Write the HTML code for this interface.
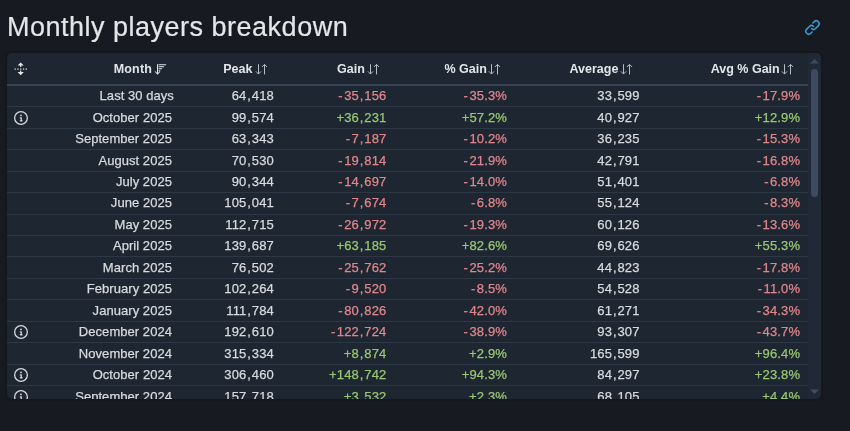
<!DOCTYPE html>
<html><head><meta charset="utf-8"><style>
html,body{margin:0;padding:0}
body{width:850px;height:431px;overflow:hidden;background:#171a21;position:relative;font-family:"Liberation Sans",Arial,sans-serif;}
h2{position:absolute;left:7.0px;top:12.0px;margin:0;font-weight:normal;font-size:27px;letter-spacing:0.5px;line-height:30px;-webkit-text-stroke:0.2px currentColor;color:#e4e6e8;white-space:nowrap}
.link{position:absolute;left:803.7px;top:18.8px;width:17px;height:17px}
.tbl{position:absolute;left:7px;top:53px;width:813.5px;height:346px;background:#1e2731;border-radius:5px;overflow:hidden;box-shadow:0 0 0 2px #14171c}
.hdr{position:absolute;left:0;top:0;width:801px;height:31px;border-bottom:2px solid #364456}
.sep{position:absolute;left:0;width:801px;height:1px;background:#2c3846}
.t{position:absolute;white-space:nowrap;line-height:15px;-webkit-text-stroke:0.25px currentColor;font-size:13px;color:#d6dade;text-align:right}
.h{position:absolute;white-space:nowrap;line-height:15px;font-size:12.5px;font-weight:bold;color:#e2e6ea;text-align:right}
.n{letter-spacing:0.15px}
.m{letter-spacing:0.05px}
.cm{margin:0 0.8px}
.mi{margin-right:1.3px}
.r{color:#e0868b}
.g{color:#98c672}
.ic{position:absolute;color:#d5d9de}
.sb{position:absolute;left:801px;top:0;width:12.5px;height:346px;background:#212836}
</style></head><body>
<h2>Monthly players breakdown</h2>

<svg class="link" viewBox="0 0 16 16"><path fill="#3799cf" d="m7.775 3.275 1.25-1.25a3.5 3.5 0 1 1 4.95 4.95l-2.5 2.5a3.5 3.5 0 0 1-4.95 0 .751.751 0 0 1 .018-1.042.751.751 0 0 1 1.042-.018 1.998 1.998 0 0 0 2.83 0l2.5-2.5a2.002 2.002 0 0 0-2.83-2.83l-1.25 1.25a.751.751 0 0 1-1.042-.018.751.751 0 0 1-.018-1.042Zm-4.69 9.64a1.998 1.998 0 0 0 2.83 0l1.25-1.25a.751.751 0 0 1 1.042.018.751.751 0 0 1 .018 1.042l-1.25 1.25a3.5 3.5 0 1 1-4.95-4.95l2.5-2.5a3.5 3.5 0 0 1 4.95 0 .751.751 0 0 1-.018 1.042.751.751 0 0 1-1.042.018 1.998 1.998 0 0 0-2.83 0l-2.5 2.5a1.998 1.998 0 0 0 0 2.83Z"/></svg>
<div class="tbl">
<div class="hdr"></div>
<div class="h" style="right:668.50px;top:9.20px;letter-spacing:0.15px">Month</div>
<svg style="position:absolute;left:147.00px;top:10.80px" width="13" height="11" viewBox="0 0 13 11"><g fill="none" stroke="#e0e4e8" stroke-width="1.05"><path d="M3.5 0.3v9.6M1 7.5l2.5 2.5 2.5-2.5"/><path d="M4.5 0.7h7.6M4.5 2.7h5.6M4.5 4.7h3.6M4.5 6.7h1.7"/></g></svg>
<div class="h" style="right:568.10px;top:9.20px">Peak</div>
<svg style="position:absolute;left:248.00px;top:10.80px" width="13" height="11" viewBox="0 0 13 11"><g fill="none" stroke="#b4bcc6" stroke-width="1.0"><path d="M3.5 0.2V10.1M0.9 7.4L3.5 10.0L6.1 7.4"/><path d="M9.5 10.4V0.4M6.9 3.0L9.5 0.4L12.1 3.0"/></g></svg>
<div class="h" style="right:455.60px;top:9.20px">Gain</div>
<svg style="position:absolute;left:360.00px;top:10.80px" width="13" height="11" viewBox="0 0 13 11"><g fill="none" stroke="#b4bcc6" stroke-width="1.0"><path d="M3.5 0.2V10.1M0.9 7.4L3.5 10.0L6.1 7.4"/><path d="M9.5 10.4V0.4M6.9 3.0L9.5 0.4L12.1 3.0"/></g></svg>
<div class="h" style="right:333.70px;top:9.20px">% Gain</div>
<svg style="position:absolute;left:481.00px;top:10.80px" width="13" height="11" viewBox="0 0 13 11"><g fill="none" stroke="#b4bcc6" stroke-width="1.0"><path d="M3.5 0.2V10.1M0.9 7.4L3.5 10.0L6.1 7.4"/><path d="M9.5 10.4V0.4M6.9 3.0L9.5 0.4L12.1 3.0"/></g></svg>
<div class="h" style="right:202.10px;top:9.20px">Average</div>
<svg style="position:absolute;left:613.00px;top:10.80px" width="13" height="11" viewBox="0 0 13 11"><g fill="none" stroke="#b4bcc6" stroke-width="1.0"><path d="M3.5 0.2V10.1M0.9 7.4L3.5 10.0L6.1 7.4"/><path d="M9.5 10.4V0.4M6.9 3.0L9.5 0.4L12.1 3.0"/></g></svg>
<div class="h" style="right:40.80px;top:9.20px">Avg % Gain</div>
<svg style="position:absolute;left:774.00px;top:10.80px" width="13" height="11" viewBox="0 0 13 11"><g fill="none" stroke="#b4bcc6" stroke-width="1.0"><path d="M3.5 0.2V10.1M0.9 7.4L3.5 10.0L6.1 7.4"/><path d="M9.5 10.4V0.4M6.9 3.0L9.5 0.4L12.1 3.0"/></g></svg>
<svg style="position:absolute;left:7px;top:8.5px" width="15" height="14" viewBox="0 0 15 14"><g fill="#e6e9ec"><path d="M6.7 0.4L9.8 3.5H7.3V5.1H6.1V3.5H3.6Z"/><path d="M6.7 13.2L9.8 10.1H7.3V8.4H6.1V10.1H3.6Z"/><rect x="0.5" y="6.5" width="1.3" height="1.2"/><rect x="3.3" y="6.5" width="1.3" height="1.2"/><rect x="6.1" y="6.5" width="1.3" height="1.2"/><rect x="8.9" y="6.5" width="1.3" height="1.2"/><rect x="11.7" y="6.5" width="1.3" height="1.2"/></g></svg>
<div class="t m" style="right:646.60px;top:35.20px">Last 30 days</div>
<div class="t n" style="right:546.50px;top:35.20px">64<span class="cm">,</span>418</div>
<div class="t n r" style="right:434.10px;top:35.20px"><span class="mi">-</span>35<span class="cm">,</span>156</div>
<div class="t n r" style="right:313.50px;top:35.20px"><span class="mi">-</span>35.3%</div>
<div class="t n" style="right:180.90px;top:35.20px">33<span class="cm">,</span>599</div>
<div class="t n r" style="right:20.30px;top:35.20px"><span class="mi">-</span>17.9%</div>
<div class="sep" style="top:53.30px"></div>
<div class="t m" style="right:648.50px;top:56.65px">October 2025</div>
<div class="t n" style="right:546.50px;top:56.65px">99<span class="cm">,</span>574</div>
<div class="t n g" style="right:434.10px;top:56.65px">+36<span class="cm">,</span>231</div>
<div class="t n g" style="right:313.50px;top:56.65px">+57.2%</div>
<div class="t n" style="right:180.90px;top:56.65px">40<span class="cm">,</span>927</div>
<div class="t n g" style="right:20.30px;top:56.65px">+12.9%</div>
<svg class="ic" style="left:6.70px;top:57.72px" width="14" height="14" viewBox="0 0 16 16"><path fill="currentColor" d="M0 8a8 8 0 1 1 16 0A8 8 0 0 1 0 8Zm8-6.5a6.5 6.5 0 1 0 0 13 6.5 6.5 0 0 0 0-13ZM6.5 7.75A.75.75 0 0 1 7.25 7h1a.75.75 0 0 1 .75.75v2.75h.25a.75.75 0 0 1 0 1.5h-2a.75.75 0 0 1 0-1.5h.25v-2h-.25a.75.75 0 0 1-.75-.75ZM8 6a1 1 0 1 1 0-2 1 1 0 0 1 0 2Z"/></svg>
<div class="sep" style="top:74.75px"></div>
<div class="t m" style="right:648.50px;top:78.10px">September 2025</div>
<div class="t n" style="right:546.50px;top:78.10px">63<span class="cm">,</span>343</div>
<div class="t n r" style="right:434.10px;top:78.10px"><span class="mi">-</span>7<span class="cm">,</span>187</div>
<div class="t n r" style="right:313.50px;top:78.10px"><span class="mi">-</span>10.2%</div>
<div class="t n" style="right:180.90px;top:78.10px">36<span class="cm">,</span>235</div>
<div class="t n r" style="right:20.30px;top:78.10px"><span class="mi">-</span>15.3%</div>
<div class="sep" style="top:96.20px"></div>
<div class="t m" style="right:648.50px;top:99.55px">August 2025</div>
<div class="t n" style="right:546.50px;top:99.55px">70<span class="cm">,</span>530</div>
<div class="t n r" style="right:434.10px;top:99.55px"><span class="mi">-</span>19<span class="cm">,</span>814</div>
<div class="t n r" style="right:313.50px;top:99.55px"><span class="mi">-</span>21.9%</div>
<div class="t n" style="right:180.90px;top:99.55px">42<span class="cm">,</span>791</div>
<div class="t n r" style="right:20.30px;top:99.55px"><span class="mi">-</span>16.8%</div>
<div class="sep" style="top:117.65px"></div>
<div class="t m" style="right:648.50px;top:121.00px">July 2025</div>
<div class="t n" style="right:546.50px;top:121.00px">90<span class="cm">,</span>344</div>
<div class="t n r" style="right:434.10px;top:121.00px"><span class="mi">-</span>14<span class="cm">,</span>697</div>
<div class="t n r" style="right:313.50px;top:121.00px"><span class="mi">-</span>14.0%</div>
<div class="t n" style="right:180.90px;top:121.00px">51<span class="cm">,</span>401</div>
<div class="t n r" style="right:20.30px;top:121.00px"><span class="mi">-</span>6.8%</div>
<div class="sep" style="top:139.10px"></div>
<div class="t m" style="right:648.50px;top:142.45px">June 2025</div>
<div class="t n" style="right:546.50px;top:142.45px">105<span class="cm">,</span>041</div>
<div class="t n r" style="right:434.10px;top:142.45px"><span class="mi">-</span>7<span class="cm">,</span>674</div>
<div class="t n r" style="right:313.50px;top:142.45px"><span class="mi">-</span>6.8%</div>
<div class="t n" style="right:180.90px;top:142.45px">55<span class="cm">,</span>124</div>
<div class="t n r" style="right:20.30px;top:142.45px"><span class="mi">-</span>8.3%</div>
<div class="sep" style="top:160.55px"></div>
<div class="t m" style="right:648.50px;top:163.90px">May 2025</div>
<div class="t n" style="right:546.50px;top:163.90px">112<span class="cm">,</span>715</div>
<div class="t n r" style="right:434.10px;top:163.90px"><span class="mi">-</span>26<span class="cm">,</span>972</div>
<div class="t n r" style="right:313.50px;top:163.90px"><span class="mi">-</span>19.3%</div>
<div class="t n" style="right:180.90px;top:163.90px">60<span class="cm">,</span>126</div>
<div class="t n r" style="right:20.30px;top:163.90px"><span class="mi">-</span>13.6%</div>
<div class="sep" style="top:182.00px"></div>
<div class="t m" style="right:648.50px;top:185.35px">April 2025</div>
<div class="t n" style="right:546.50px;top:185.35px">139<span class="cm">,</span>687</div>
<div class="t n g" style="right:434.10px;top:185.35px">+63<span class="cm">,</span>185</div>
<div class="t n g" style="right:313.50px;top:185.35px">+82.6%</div>
<div class="t n" style="right:180.90px;top:185.35px">69<span class="cm">,</span>626</div>
<div class="t n g" style="right:20.30px;top:185.35px">+55.3%</div>
<div class="sep" style="top:203.45px"></div>
<div class="t m" style="right:648.50px;top:206.80px">March 2025</div>
<div class="t n" style="right:546.50px;top:206.80px">76<span class="cm">,</span>502</div>
<div class="t n r" style="right:434.10px;top:206.80px"><span class="mi">-</span>25<span class="cm">,</span>762</div>
<div class="t n r" style="right:313.50px;top:206.80px"><span class="mi">-</span>25.2%</div>
<div class="t n" style="right:180.90px;top:206.80px">44<span class="cm">,</span>823</div>
<div class="t n r" style="right:20.30px;top:206.80px"><span class="mi">-</span>17.8%</div>
<div class="sep" style="top:224.90px"></div>
<div class="t m" style="right:648.50px;top:228.25px">February 2025</div>
<div class="t n" style="right:546.50px;top:228.25px">102<span class="cm">,</span>264</div>
<div class="t n r" style="right:434.10px;top:228.25px"><span class="mi">-</span>9<span class="cm">,</span>520</div>
<div class="t n r" style="right:313.50px;top:228.25px"><span class="mi">-</span>8.5%</div>
<div class="t n" style="right:180.90px;top:228.25px">54<span class="cm">,</span>528</div>
<div class="t n r" style="right:20.30px;top:228.25px"><span class="mi">-</span>11.0%</div>
<div class="sep" style="top:246.35px"></div>
<div class="t m" style="right:648.50px;top:249.70px">January 2025</div>
<div class="t n" style="right:546.50px;top:249.70px">111<span class="cm">,</span>784</div>
<div class="t n r" style="right:434.10px;top:249.70px"><span class="mi">-</span>80<span class="cm">,</span>826</div>
<div class="t n r" style="right:313.50px;top:249.70px"><span class="mi">-</span>42.0%</div>
<div class="t n" style="right:180.90px;top:249.70px">61<span class="cm">,</span>271</div>
<div class="t n r" style="right:20.30px;top:249.70px"><span class="mi">-</span>34.3%</div>
<div class="sep" style="top:267.80px"></div>
<div class="t m" style="right:648.50px;top:271.15px">December 2024</div>
<div class="t n" style="right:546.50px;top:271.15px">192<span class="cm">,</span>610</div>
<div class="t n r" style="right:434.10px;top:271.15px"><span class="mi">-</span>122<span class="cm">,</span>724</div>
<div class="t n r" style="right:313.50px;top:271.15px"><span class="mi">-</span>38.9%</div>
<div class="t n" style="right:180.90px;top:271.15px">93<span class="cm">,</span>307</div>
<div class="t n r" style="right:20.30px;top:271.15px"><span class="mi">-</span>43.7%</div>
<svg class="ic" style="left:6.70px;top:272.22px" width="14" height="14" viewBox="0 0 16 16"><path fill="currentColor" d="M0 8a8 8 0 1 1 16 0A8 8 0 0 1 0 8Zm8-6.5a6.5 6.5 0 1 0 0 13 6.5 6.5 0 0 0 0-13ZM6.5 7.75A.75.75 0 0 1 7.25 7h1a.75.75 0 0 1 .75.75v2.75h.25a.75.75 0 0 1 0 1.5h-2a.75.75 0 0 1 0-1.5h.25v-2h-.25a.75.75 0 0 1-.75-.75ZM8 6a1 1 0 1 1 0-2 1 1 0 0 1 0 2Z"/></svg>
<div class="sep" style="top:289.25px"></div>
<div class="t m" style="right:648.50px;top:292.60px">November 2024</div>
<div class="t n" style="right:546.50px;top:292.60px">315<span class="cm">,</span>334</div>
<div class="t n g" style="right:434.10px;top:292.60px">+8<span class="cm">,</span>874</div>
<div class="t n g" style="right:313.50px;top:292.60px">+2.9%</div>
<div class="t n" style="right:180.90px;top:292.60px">165<span class="cm">,</span>599</div>
<div class="t n g" style="right:20.30px;top:292.60px">+96.4%</div>
<div class="sep" style="top:310.70px"></div>
<div class="t m" style="right:648.50px;top:314.05px">October 2024</div>
<div class="t n" style="right:546.50px;top:314.05px">306<span class="cm">,</span>460</div>
<div class="t n g" style="right:434.10px;top:314.05px">+148<span class="cm">,</span>742</div>
<div class="t n g" style="right:313.50px;top:314.05px">+94.3%</div>
<div class="t n" style="right:180.90px;top:314.05px">84<span class="cm">,</span>297</div>
<div class="t n g" style="right:20.30px;top:314.05px">+23.8%</div>
<svg class="ic" style="left:6.70px;top:315.12px" width="14" height="14" viewBox="0 0 16 16"><path fill="currentColor" d="M0 8a8 8 0 1 1 16 0A8 8 0 0 1 0 8Zm8-6.5a6.5 6.5 0 1 0 0 13 6.5 6.5 0 0 0 0-13ZM6.5 7.75A.75.75 0 0 1 7.25 7h1a.75.75 0 0 1 .75.75v2.75h.25a.75.75 0 0 1 0 1.5h-2a.75.75 0 0 1 0-1.5h.25v-2h-.25a.75.75 0 0 1-.75-.75ZM8 6a1 1 0 1 1 0-2 1 1 0 0 1 0 2Z"/></svg>
<div class="sep" style="top:332.15px"></div>
<div class="t m" style="right:648.50px;top:335.50px">September 2024</div>
<div class="t n" style="right:546.50px;top:335.50px">157<span class="cm">,</span>718</div>
<div class="t n g" style="right:434.10px;top:335.50px">+3<span class="cm">,</span>532</div>
<div class="t n g" style="right:313.50px;top:335.50px">+2.3%</div>
<div class="t n" style="right:180.90px;top:335.50px">68<span class="cm">,</span>105</div>
<div class="t n g" style="right:20.30px;top:335.50px">+4.4%</div>
<svg class="ic" style="left:6.70px;top:336.57px" width="14" height="14" viewBox="0 0 16 16"><path fill="currentColor" d="M0 8a8 8 0 1 1 16 0A8 8 0 0 1 0 8Zm8-6.5a6.5 6.5 0 1 0 0 13 6.5 6.5 0 0 0 0-13ZM6.5 7.75A.75.75 0 0 1 7.25 7h1a.75.75 0 0 1 .75.75v2.75h.25a.75.75 0 0 1 0 1.5h-2a.75.75 0 0 1 0-1.5h.25v-2h-.25a.75.75 0 0 1-.75-.75ZM8 6a1 1 0 1 1 0-2 1 1 0 0 1 0 2Z"/></svg>
<div class="sep" style="top:353.60px"></div>
<div class="sb"></div>
<svg style="position:absolute;left:802px;top:5px" width="11" height="6" viewBox="0 0 11 6"><path d="M1 5.5L5.5 1 10 5.5z" fill="#3c4a5c"/></svg>
<div style="position:absolute;left:804px;top:15.5px;width:7px;height:128px;border-radius:3.5px;background:#3e4b61"></div>
<svg style="position:absolute;left:802px;top:335.6px" width="11" height="6" viewBox="0 0 11 6"><path d="M1 0.5L5.5 5 10 0.5z" fill="#3c4e66"/></svg>
</div>
</body></html>
